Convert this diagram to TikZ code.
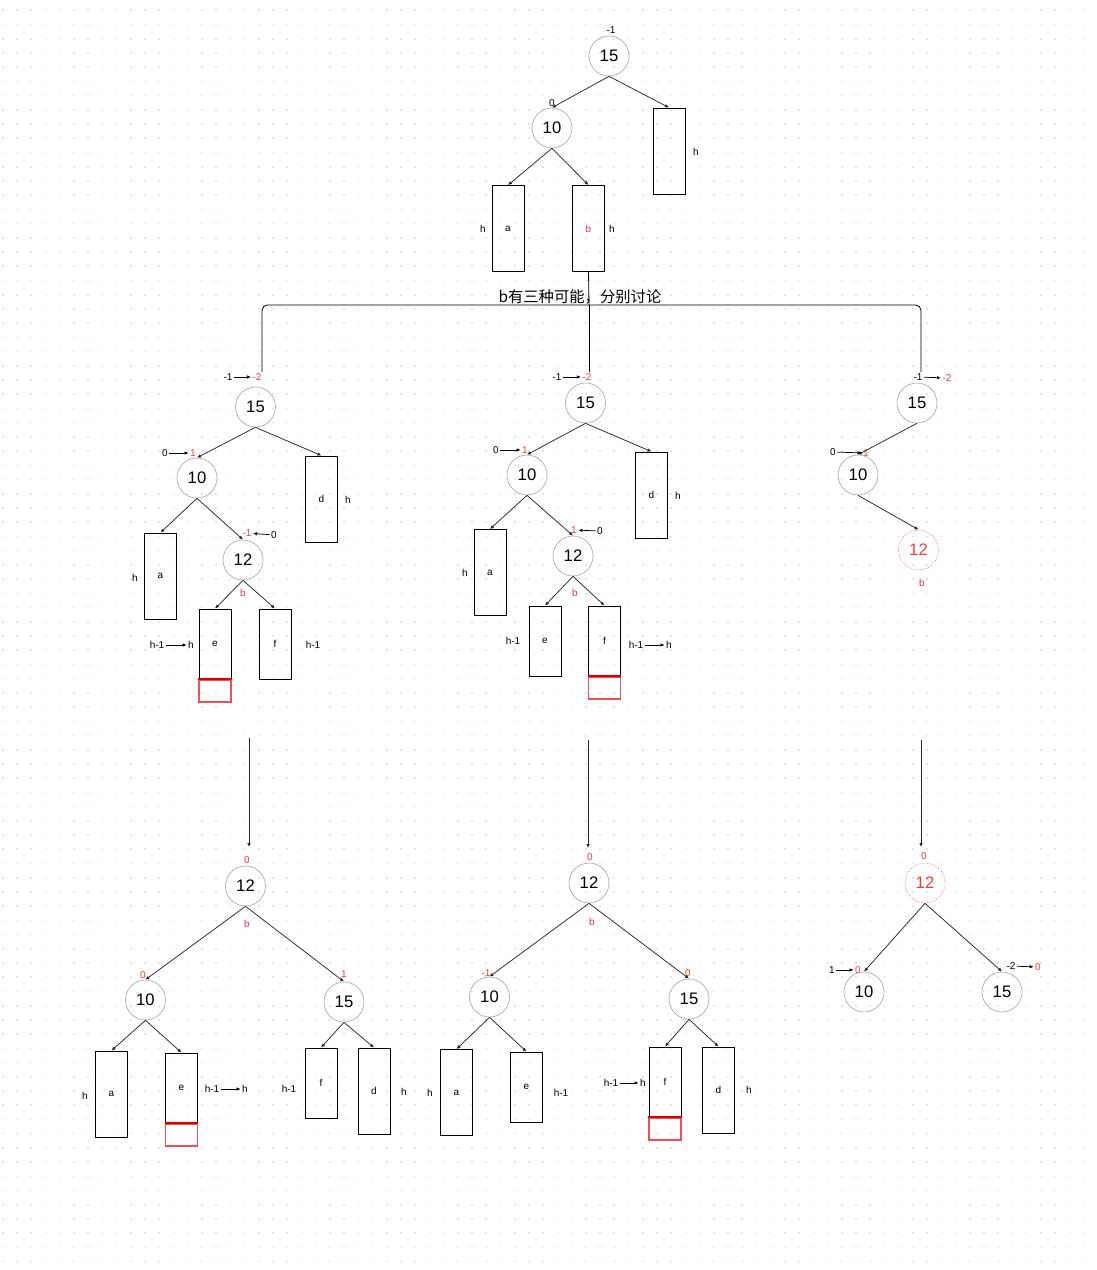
\documentclass[tikz,border=0pt]{standalone}
\usepackage{fontspec}
\setmainfont{Liberation Sans}
\newfontfamily\cjk{Noto Sans CJK SC}
\usetikzlibrary{arrows.meta, positioning}
\definecolor{numred}{RGB}{245,60,60}
\definecolor{bred}{RGB}{228,50,85}
\definecolor{growred}{RGB}{238,80,80}
\definecolor{topred}{RGB}{220,0,0}
\definecolor{dotgray}{RGB}{228,228,232}
\definecolor{ringgray}{RGB}{170,170,170}

\begin{document}
\begin{tikzpicture}[x=0.75pt, y=-0.75pt,
  keynode/.style={draw=ringgray, circle, minimum size=30pt, inner sep=0pt, line width=0.5pt, font=\fontsize{12.5}{12.5}\selectfont},
  newnode/.style={keynode, draw=numred!80, densely dotted, text=numred},
  tallbox/.style={draw, line width=0.6pt, minimum width=24pt, minimum height=64.5pt, inner sep=0pt, font=\fontsize{7.5}{7.5}\selectfont},
  shortbox/.style={tallbox, minimum height=52.5pt},
  growbox/.style={draw=growred, line width=0.9pt, minimum width=24pt, minimum height=16.5pt, inner sep=0pt, anchor=north},
  growtop/.style={draw=topred, line width=1.4pt},
  lbl/.style={font=\fontsize{7.5}{7.5}\selectfont, inner sep=1pt},
  redlbl/.style={lbl, text=numred},
  blbl/.style={lbl, text=bred},
  edge/.style={-{Latex[length=3pt,width=2.6pt]}, line width=0.55pt, black!85},
  balarrow/.style={-{Latex[length=3pt,width=2.6pt]}, line width=0.55pt},
  dotrow/.style={dotgray, line width=1.2pt, dash pattern=on 1.2pt off 9.465pt},
]
% Canvas and dot grid
\useasboundingbox (0,0) rectangle (1096,1270);
\fill[white] (0,0) rectangle (1096,1270);
\foreach \j in {0,...,88}
  \draw[dotrow] (2,10.3+\j*14.22) -- (1096,10.3+\j*14.22);

% Starting tree
\node[keynode] (t15) at (609,56) {15};
\node[keynode] (t10) at (552,128) {10};
\node[tallbox] (th) at (669,151) {};
\node[tallbox] (ta) at (508,228.5) {a};
\node[tallbox, text=bred] (tb) at (588.5,228.5) {b};
\node[lbl] (t15bf) at (611,30) {-1};
\node[lbl] (t10bf) at (552,103) {0};
\node[lbl] (thh) at (696,152) {h};
\node[lbl] (tah) at (483,229) {h};
\node[lbl] (tbh) at (612,229) {h};

% Split into three cases
\node[font=\cjk\fontsize{11.5}{11.5}\selectfont, inner sep=0pt] (note) at (580,297) {b有三种可能，分别讨论};
\coordinate (split) at (589,305);
\coordinate (c1in) at (262,372);
\coordinate (c2in) at (589,372);
\coordinate (c3in) at (921,372);
\draw[line width=0.6pt] (tb.south) -- (split);
\draw[line width=0.6pt, rounded corners=4pt] (split) -| (c1in);
\draw[line width=0.6pt, rounded corners=4pt] (split) -| (c3in);
\draw[line width=0.6pt] (split) -- (c2in);

% Case 1: e grows
\node[keynode] (c1n15) at (255.5,407) {15};
\node[keynode] (c1n10) at (197,478) {10};
\node[keynode] (c1n12) at (243,560) {12};
\node[tallbox] (c1d) at (321.5,499) {d};
\node[tallbox] (c1a) at (160.5,576) {a};
\node[shortbox] (c1e) at (215,644) {e};
\node[shortbox] (c1f) at (275,644) {f};
\node[growbox] (c1eg) at (c1e.south) {};
\draw[growtop] (c1eg.north west) -- (c1eg.north east);
\node[lbl] (c1o15) at (228,377) {-1};
\node[redlbl] (c1x15) at (257,377) {-2};
\node[lbl] (c1o10) at (165,453) {0};
\node[redlbl] (c1x10) at (193,453) {1};
\node[redlbl] (c1x12) at (247,533) {-1};
\node[lbl] (c1o12) at (274,535) {0};
\node[blbl] (c1b) at (243,593) {b};
\node[lbl] (c1dh) at (348,500) {h};
\node[lbl] (c1ah) at (135,578) {h};
\node[lbl] (c1eo) at (157,645) {h-1};
\node[lbl] (c1ex) at (191,645) {h};
\node[lbl] (c1fh) at (313,645) {h-1};

% Case 2: f grows
\node[keynode] (c2n15) at (585.5,403) {15};
\node[keynode] (c2n10) at (527,475) {10};
\node[keynode] (c2n12) at (573,556) {12};
\node[tallbox] (c2d) at (651.5,495) {d};
\node[tallbox] (c2a) at (490,572.5) {a};
\node[shortbox] (c2e) at (545,641) {e};
\node[shortbox] (c2f) at (604.5,641) {f};
\node[growbox] (c2fg) at (c2f.south) {};
\draw[growtop] (c2fg.north west) -- (c2fg.north east);
\node[lbl] (c2o15) at (557,377) {-1};
\node[redlbl] (c2x15) at (587,377) {-2};
\node[lbl] (c2o10) at (496,450) {0};
\node[redlbl] (c2x10) at (525,450) {1};
\node[redlbl] (c2x12) at (574,530) {1};
\node[lbl] (c2o12) at (600,531) {0};
\node[blbl] (c2b) at (575,593) {b};
\node[lbl] (c2dh) at (678,496) {h};
\node[lbl] (c2ah) at (465,573) {h};
\node[lbl] (c2eh) at (513,641) {h-1};
\node[lbl] (c2fo) at (636,645) {h-1};
\node[lbl] (c2fx) at (669,645) {h};

% Case 3: b is the new node
\node[keynode] (c3n15) at (917,403) {15};
\node[keynode] (c3n10) at (858,475) {10};
\node[newnode] (c3n12) at (918.5,550) {12};
\node[lbl] (c3o15) at (918,377) {-1};
\node[redlbl] (c3x15) at (947,378) {-2};
\node[lbl] (c3o10) at (833,452) {0};
\node[redlbl] (c3x10) at (866,453) {1};
\node[blbl] (c3b) at (922,583) {b};

% Results after rotation
\coordinate (c1out) at (249,738);
\coordinate (c2out) at (588,740);
\coordinate (c3out) at (921,740);
\coordinate (r1in) at (249,847);
\coordinate (r2in) at (588,848);
\coordinate (r3in) at (921,847);
\foreach \src/\dst in {c1out/r1in, c2out/r2in, c3out/r3in}
  \draw[edge] (\src) -- (\dst);

% Result 1
\node[keynode] (r1n12) at (245.5,886) {12};
\node[keynode] (r1n10) at (145.5,1000) {10};
\node[keynode] (r1n15) at (344,1002) {15};
\node[tallbox] (r1a) at (111.5,1094) {a};
\node[shortbox] (r1e) at (181.5,1088) {e};
\node[shortbox] (r1f) at (321,1083) {f};
\node[tallbox] (r1d) at (374,1091) {d};
\node[growbox] (r1eg) at (r1e.south) {};
\draw[growtop] (r1eg.north west) -- (r1eg.north east);
\node[redlbl] (r1x12) at (247,860) {0};
\node[blbl] (r1b) at (247,924) {b};
\node[redlbl] (r1x10) at (143,975) {0};
\node[redlbl] (r1x15) at (344,974) {1};
\node[lbl] (r1ah) at (85,1096) {h};
\node[lbl] (r1eo) at (212,1089) {h-1};
\node[lbl] (r1ex) at (245,1089) {h};
\node[lbl] (r1fh) at (289,1089) {h-1};
\node[lbl] (r1dh) at (404,1092) {h};

% Result 2
\node[keynode] (r2n12) at (589,883) {12};
\node[keynode] (r2n10) at (489.5,997) {10};
\node[keynode] (r2n15) at (689,999) {15};
\node[tallbox] (r2a) at (456.5,1092.5) {a};
\node[shortbox] (r2e) at (526.5,1087) {e};
\node[shortbox] (r2f) at (665,1082) {f};
\node[tallbox] (r2d) at (718.5,1090) {d};
\node[growbox] (r2fg) at (r2f.south) {};
\draw[growtop] (r2fg.north west) -- (r2fg.north east);
\node[redlbl] (r2x12) at (590,857) {0};
\node[blbl] (r2b) at (592,922) {b};
\node[redlbl] (r2x10) at (486,973) {-1};
\node[redlbl] (r2x15) at (688,973) {0};
\node[lbl] (r2ah) at (430,1093) {h};
\node[lbl] (r2eh) at (561,1093) {h-1};
\node[lbl] (r2fo) at (611,1083) {h-1};
\node[lbl] (r2fx) at (643,1083) {h};
\node[lbl] (r2dh) at (749,1090) {h};

% Result 3
\node[newnode] (r3n12) at (925,883) {12};
\node[keynode] (r3n10) at (864,992) {10};
\node[keynode] (r3n15) at (1002,992) {15};
\node[redlbl] (r3x12) at (924,856) {0};
\node[lbl] (r3o10) at (832,970) {1};
\node[redlbl] (r3x10) at (858,970) {0};
\node[lbl] (r3o15) at (1011,966) {-2};
\node[redlbl] (r3x15) at (1038,967) {0};

% Tree edges
\foreach \src/\dst in {t15/t10, t15/th, t10/ta, t10/tb,
    c1n15/c1n10, c1n15/c1d, c1n10/c1a, c1n10/c1n12, c1n12/c1e, c1n12/c1f,
    c2n15/c2n10, c2n15/c2d, c2n10/c2a, c2n10/c2n12, c2n12/c2e, c2n12/c2f,
    c3n15/c3n10, c3n10/c3n12,
    r1n12/r1n10, r1n12/r1n15, r1n10/r1a, r1n10/r1e, r1n15/r1f, r1n15/r1d,
    r2n12/r2n10, r2n12/r2n15, r2n10/r2a, r2n10/r2e, r2n15/r2f, r2n15/r2d,
    r3n12/r3n10, r3n12/r3n15}
  \draw[edge] (\src.south) -- (\dst.north);

% Balance factor changes
\foreach \src/\dst in {c1o15/c1x15, c1o10/c1x10, c1o12/c1x12, c1eo/c1ex,
    c2o15/c2x15, c2o10/c2x10, c2o12/c2x12, c2fo/c2fx,
    c3o15/c3x15, c3o10/c3x10,
    r1eo/r1ex, r2fo/r2fx, r3o10/r3x10, r3o15/r3x15}
  \draw[balarrow] (\src) -- (\dst);
\end{tikzpicture}
\end{document}
